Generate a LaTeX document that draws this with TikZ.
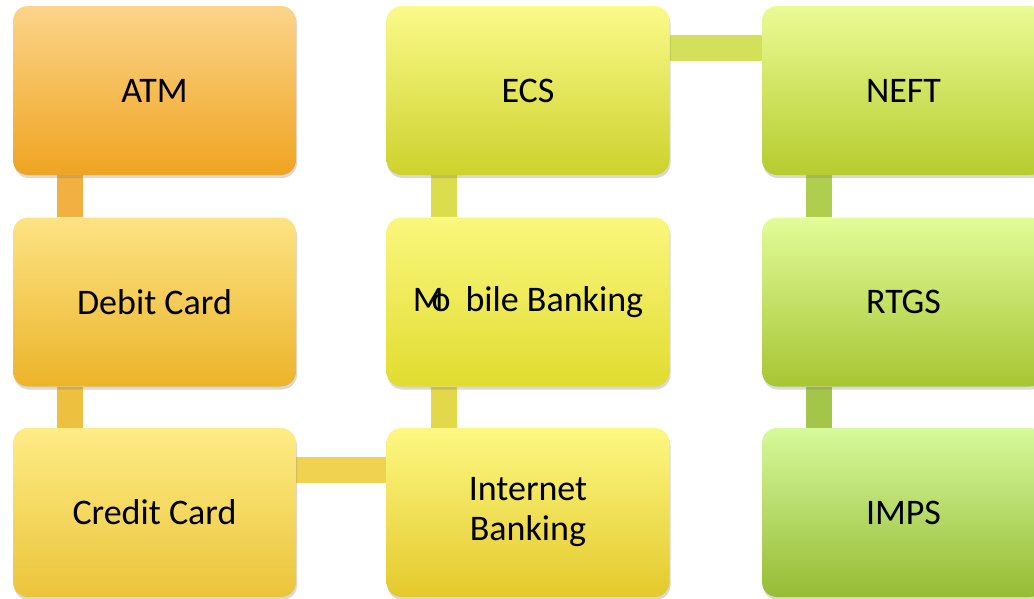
\documentclass[tikz,border=0pt]{standalone}
\usepackage{fontspec}
\setmainfont{Carlito}
\usetikzlibrary{backgrounds,shadows}

\definecolor{atmTop}{HTML}{FCD48A}    \definecolor{atmBot}{HTML}{EFA421}
\definecolor{debitTop}{HTML}{FDE384}  \definecolor{debitBot}{HTML}{ECB42A}
\definecolor{creditTop}{HTML}{FEEC86} \definecolor{creditBot}{HTML}{EBC43A}
\definecolor{netTop}{HTML}{FDF883}    \definecolor{netBot}{HTML}{E4C92C}
\definecolor{mobTop}{HTML}{FAF77E}    \definecolor{mobBot}{HTML}{E1DC2F}
\definecolor{ecsTop}{HTML}{FBFA8A}    \definecolor{ecsBot}{HTML}{CDD22C}
\definecolor{neftTop}{HTML}{EBFB95}   \definecolor{neftBot}{HTML}{B6CC2E}
\definecolor{rtgsTop}{HTML}{E2FC9A}   \definecolor{rtgsBot}{HTML}{A7C532}
\definecolor{impsTop}{HTML}{D6F99C}   \definecolor{impsBot}{HTML}{96BC34}

\begin{document}
\begin{tikzpicture}[x=1pt, y=-1pt,
    mode/.style={rectangle, rounded corners=15pt, minimum width=283pt, minimum height=169pt,
        align=center, inner sep=0pt, font=\fontsize{36}{40}\selectfont,
        drop shadow={opacity=0.3, shadow xshift=1pt, shadow yshift=-3pt}},
    link/.style={line width=26pt}
]
    \useasboundingbox (0,0) rectangle (1034,598);
    \clip (0,0) rectangle (1034,598);

    % Cards column
    \node[mode, top color=atmTop, bottom color=atmBot] (atm) at (154.5, 90.5) {ATM};
    \node[mode, top color=debitTop, bottom color=debitBot] (debit) at (154.5, 302) {Debit Card};
    \node[mode, top color=creditTop, bottom color=creditBot] (credit) at (154.5, 512.5) {Credit Card};

    % Online column
    \node[mode, top color=ecsTop, bottom color=ecsBot] (ecs) at (528, 90.5) {ECS};
    \node[mode, top color=mobTop, bottom color=mobBot] (mobile) at (528, 302) {M\kern-12pt o\kern15pt bile Banking};
    \node[mode, top color=netTop, bottom color=netBot] (internet) at (528, 512.5) {Internet\\Banking};

    % Transfer column
    \node[mode, top color=neftTop, bottom color=neftBot] (neft) at (903.5, 90.5) {NEFT};
    \node[mode, top color=rtgsTop, bottom color=rtgsBot] (rtgs) at (903.5, 302) {RTGS};
    \node[mode, top color=impsTop, bottom color=impsBot] (imps) at (903.5, 512.5) {IMPS};

    % Links behind the boxes
    \begin{scope}[on background layer]
        \draw[link, color={rgb,255:red,241;green,176;blue,64}] ([xshift=57pt]atm.south west) -- ([xshift=57pt]debit.north west);
        \draw[link, color={rgb,255:red,238;green,192;blue,64}] ([xshift=57pt]debit.south west) -- ([xshift=57pt]credit.north west);
        \draw[link, color={rgb,255:red,238;green,210;blue,80}] ([yshift=-42.5pt]credit.north east) -- ([yshift=-42.5pt]internet.north west);
        \draw[link, color={rgb,255:red,227;green,216;blue,74}] ([xshift=57.5pt]internet.north west) -- ([xshift=57.5pt]mobile.south west);
        \draw[link, color={rgb,255:red,220;green,221;blue,76}] ([xshift=57.5pt]mobile.north west) -- ([xshift=57.5pt]ecs.south west);
        \draw[link, color={rgb,255:red,210;green,224;blue,90}] ([yshift=-42.5pt]ecs.north east) -- ([yshift=-42.5pt]neft.north west);
        \draw[link, color={rgb,255:red,176;green,206;blue,78}] ([xshift=57.5pt]neft.south west) -- ([xshift=57.5pt]rtgs.north west);
        \draw[link, color={rgb,255:red,163;green,198;blue,74}] ([xshift=57.5pt]rtgs.south west) -- ([xshift=57.5pt]imps.north west);
    \end{scope}
\end{tikzpicture}
\end{document}
